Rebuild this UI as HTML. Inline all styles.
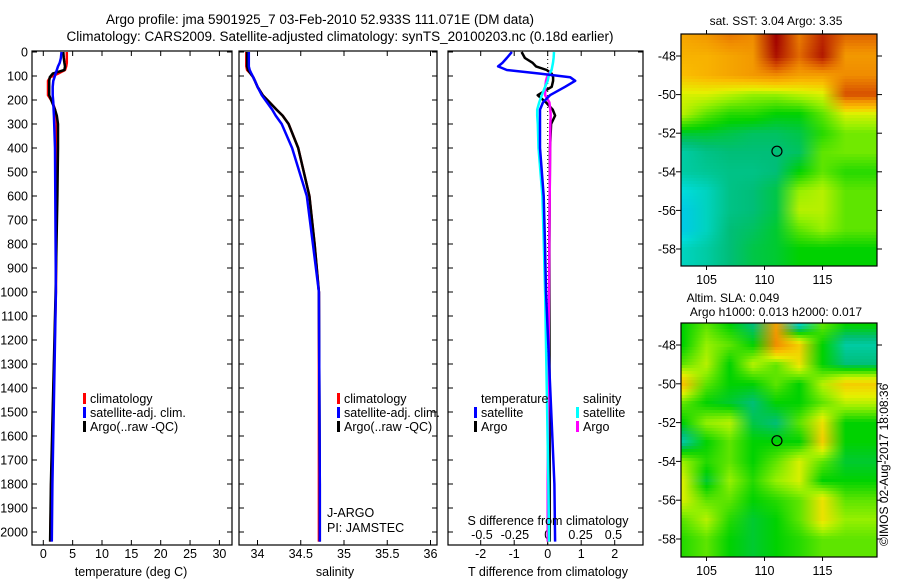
<!DOCTYPE html>
<html><head><meta charset="utf-8">
<style>
html,body{margin:0;padding:0;background:#fff;}
svg{display:block;font-family:"Liberation Sans",sans-serif;}
text{font-size:12.5px;fill:#000;}
</style></head>
<body>
<svg id="fig" width="900" height="580" viewBox="0 0 900 580" xmlns="http://www.w3.org/2000/svg">
<defs id="defs">
<clipPath id="clipMap1"><rect x="681" y="34" width="196" height="232"/></clipPath>
<clipPath id="clipMap2"><rect x="681" y="323" width="196" height="234"/></clipPath>
</defs>
<text x="320" y="24" text-anchor="middle" style="font-size:13.5px">Argo profile: jma 5901925_7 03-Feb-2010 52.933S 111.071E (DM data)</text>
<text x="340" y="41" text-anchor="middle" style="font-size:13.5px">Climatology: CARS2009. Satellite-adjusted climatology: synTS_20100203.nc (0.18d earlier)</text>
<g id="g1"></g>
<g id="g2"></g>
<g id="g3"></g>
<g id="m1"></g>
<g id="m2"></g>
<text x="776" y="25" text-anchor="middle" style="font-size:12px">sat. SST: 3.04 Argo: 3.35</text>
<text x="733" y="302" text-anchor="middle" style="font-size:12px">Altim. SLA: 0.049</text>
<text x="776" y="316" text-anchor="middle" style="font-size:12px">Argo h1000: 0.013 h2000: 0.017</text>
<text transform="translate(888,546) rotate(-90)" style="font-size:12px">©IMOS 02-Aug-2017 18:08:36</text>
</svg>
<script>
// ---------- data ----------
const depths = [0,25,45,60,75,90,105,120,145,180,210,240,265,300,400,600,800,1000,1800,2040];
const tempClim = [4.0,4.0,4.0,3.9,3.7,2.5,1.2,0.8,0.8,0.8,1.6,2.0,2.2,2.3,2.3,2.25,2.2,2.15,1.35,1.2];
const tempSat  = [3.1,3.0,2.8,2.5,2.3,2.1,1.9,1.7,1.6,1.6,1.7,1.75,1.8,1.85,2.0,2.05,2.1,2.15,1.55,1.45];
const tempArgo = [3.4,3.5,3.6,3.7,3.6,1.6,1.1,1.0,1.0,1.0,1.5,2.0,2.3,2.5,2.5,2.4,2.25,2.1,1.3,1.15];
const salClim = [33.87,33.87,33.87,33.87,33.88,33.92,33.95,33.97,34.0,34.06,34.14,34.22,34.29,34.36,34.47,34.6,34.66,34.71,34.71,34.71];
const salSat  = [33.9,33.9,33.9,33.9,33.91,33.93,33.95,33.97,34.0,34.05,34.11,34.17,34.21,34.28,34.4,34.57,34.64,34.71,34.72,34.72];
const salArgo = [33.88,33.88,33.88,33.88,33.89,33.92,33.95,33.97,34.0,34.06,34.14,34.22,34.29,34.36,34.47,34.6,34.66,34.71,34.72,34.72];
const dTsat  = [-1.07,-1.22,-1.35,-1.48,-1.22,-0.23,0.67,0.82,0.52,0.07,-0.14,-0.23,-0.23,-0.23,-0.23,-0.12,-0.08,-0.05,0.2,0.22];
const dTargo = [-0.78,-0.68,-0.45,-0.35,-0.03,0.12,0.16,0.16,0.12,-0.3,-0.05,0.15,0.22,0.1,0.07,0.06,0.05,0.05,0.06,0.06];
const dSsat  = [0.048,0.045,0.04,0.035,0.03,0.015,0.005,0.0,-0.02,-0.045,-0.065,-0.08,-0.08,-0.075,-0.07,-0.04,-0.03,-0.02,0.005,0.01];
const dSargo = [null,null,null,null,0.03,0.01,-0.005,-0.013,-0.018,-0.02,0.013,0.02,0.023,0.02,0.018,0.015,0.012,0.01,0.0,0.0];
const depthTicks = [0,100,200,300,400,500,600,700,800,900,1000,1100,1200,1300,1400,1500,1600,1700,1800,1900,2000];
const tempTicks = [0,5,10,15,20,25,30];
const salTicks = [34,34.5,35,35.5,36];
const salTickLabels = ["34","34.5","35","35.5","36"];
const dTTicks = [-2,-1,0,1,2];
const dSTicks = [-0.5,-0.25,0,0.25,0.5];
const dSTickLabels = ["-0.5","-0.25","0","0.25","0.5"];
const latTicks = [-48,-50,-52,-54,-56,-58];
const lonTicks = [105,110,115];
const sstGrid = [
[.74,.76,.80,.78,.95,.80,.90,.82],
[.72,.72,.74,.76,.93,.82,.92,.76],
[.70,.72,.74,.76,.78,.75,.75,.78],
[.62,.62,.60,.58,.58,.60,.62,.85],
[.60,.55,.52,.52,.50,.50,.55,.62],
[.48,.48,.47,.46,.46,.47,.52,.56],
[.42,.44,.45,.45,.45,.46,.55,.56],
[.42,.43,.44,.44,.45,.50,.55,.52],
[.38,.40,.44,.45,.47,.58,.60,.55],
[.36,.40,.44,.45,.47,.60,.60,.55],
[.36,.40,.45,.46,.48,.55,.58,.55],
[.40,.42,.45,.47,.48,.50,.50,.50]];
const slaGrid = [
[.50,.55,.50,.45,.75,.40,.55,.50],
[.50,.58,.55,.50,.78,.68,.50,.42],
[.55,.60,.50,.60,.55,.65,.50,.45],
[.70,.55,.50,.50,.55,.50,.60,.68],
[.55,.50,.48,.45,.50,.50,.55,.60],
[.50,.58,.60,.47,.45,.55,.65,.50],
[.42,.50,.55,.50,.50,.50,.68,.50],
[.58,.52,.55,.50,.55,.62,.55,.48],
[.62,.48,.58,.52,.58,.62,.50,.50],
[.62,.55,.55,.50,.52,.55,.65,.55],
[.55,.60,.52,.48,.50,.55,.65,.58],
[.52,.55,.50,.48,.50,.52,.55,.55]];
const argoLon = 111.071, argoLat = -52.933;

// ---------- helpers ----------
const NS="http://www.w3.org/2000/svg";
function mk(parent,tag,attrs){const e=document.createElementNS(NS,tag);for(const k in attrs)e.setAttribute(k,attrs[k]);parent.appendChild(e);return e;}
const yD = d => 52 + d*0.24;
const plotTop=51, plotBot=545;
const xT = t => 43.3 + t*5.87;
const xS = s => 257.5 + (s-34)*86.5;
const xDT = t => 547.7 + t*33.5;
const xDS = s => 547.7 + s*131.5;

function panelFrame(g,x0,x1,leftLabels){
  const r=mk(g,'rect',{x:x0,y:plotTop,width:x1-x0,height:plotBot-plotTop,fill:'none',stroke:'#000','stroke-width':1.2});
  
  
  depthTicks.forEach(d=>{
    const y=yD(d);
    const t1=mk(g,'line',{x1:x0,x2:x0+5,y1:y,y2:y,stroke:'#000'});
    
    
    const t2=mk(g,'line',{x1:x1-5,x2:x1,y1:y,y2:y,stroke:'#000'});
    
    
    if(leftLabels){
      const tx=mk(g,'text',{x:x0-4,y:y+4.5,'text-anchor':'end'});
      tx.textContent=d;
      
      
    }
  });
}
function xTicks(g,vals,labels,fx,yLab){
  vals.forEach((v,i)=>{
    const x=fx(v);
    const a=mk(g,'line',{x1:x,x2:x,y1:plotBot,y2:plotBot-5,stroke:'#000'});
    
    
    const b=mk(g,'line',{x1:x,x2:x,y1:plotTop,y2:plotTop+5,stroke:'#000'});
    
    
    const t=mk(g,'text',{x:x,y:yLab,'text-anchor':'middle'});
    t.textContent=labels[i];
    
    
  });
}
function profile(g,vals,fx,color,name,w){
  let pts=[];
  vals.forEach((v,i)=>{ if(v!==null) pts.push(fx(v).toFixed(1)+','+yD(depths[i]).toFixed(1)); });
  const p=mk(g,'polyline',{points:pts.join(' '),fill:'none',stroke:color,'stroke-width':w||2.5,'stroke-linejoin':'round'});
  
  
}
function legend(g,x,y,color,label,name){
  const r=mk(g,'rect',{x:x,y:y-10,width:3,height:11,fill:color});
  
  
  const t=mk(g,'text',{x:x+7,y:y});
  t.textContent=label;
  
  
}
function label(g,x,y,txt,name,anchor){
  const t=mk(g,'text',{x:x,y:y,'text-anchor':anchor||'start'});
  t.textContent=txt;
  
  
  return t;
}

// ---------- panel 1 ----------
const g1=document.getElementById('g1');
panelFrame(g1,32,232,true);
xTicks(g1,tempTicks,tempTicks.map(String),xT,558);
profile(g1,tempClim,xT,'#ff0000','temp-climatology-line');
profile(g1,tempArgo,xT,'#000000','temp-argo-line');
profile(g1,tempSat,xT,'#0000ff','temp-satellite-line');
label(g1,131,576,'temperature (deg C)','x-axis-title','middle');
legend(g1,83,403,'#ff0000','climatology','legend-climatology');
legend(g1,83,417,'#0000ff','satellite-adj. clim.','legend-satellite');
legend(g1,83,431,'#000000','Argo(..raw -QC)','legend-argo');

// ---------- panel 2 ----------
const g2=document.getElementById('g2');
panelFrame(g2,239,437,false);
xTicks(g2,salTicks,salTickLabels,xS,558);
profile(g2,salClim,xS,'#ff0000','sal-climatology-line');
profile(g2,salArgo,xS,'#000000','sal-argo-line');
profile(g2,salSat,xS,'#0000ff','sal-satellite-line');
label(g2,335,576,'salinity','x-axis-title','middle');
legend(g2,337,403,'#ff0000','climatology','legend-climatology');
legend(g2,337,417,'#0000ff','satellite-adj. clim.','legend-satellite');
legend(g2,337,431,'#000000','Argo(..raw -QC)','legend-argo');
label(g2,327,517,'J-ARGO','program-label');
label(g2,327,532,'PI: JAMSTEC','pi-label');

// ---------- panel 3 ----------
const g3=document.getElementById('g3');
panelFrame(g3,448,643,false);
xTicks(g3,dTTicks,dTTicks.map(String),xDT,558);
dSTicks.forEach((v,i)=>{
  label(g3,xDS(v),539,dSTickLabels[i],'s-diff-tick-label','middle');
});
const zl=mk(g3,'line',{x1:xDT(0),x2:xDT(0),y1:plotTop,y2:plotBot,stroke:'#000','stroke-dasharray':'1,3'});


profile(g3,dTargo,xDT,'#000000','t-diff-argo-line');
profile(g3,dSargo,xDS,'#ff00ff','s-diff-argo-line');
profile(g3,dSsat,xDS,'#00ffff','s-diff-satellite-line');
profile(g3,dTsat,xDT,'#0000ff','t-diff-satellite-line');
label(g3,548,525,'S difference from climatology','s-diff-axis-title','middle');
label(g3,548,576,'T difference from climatology','t-diff-axis-title','middle');
label(g3,481,403,'temperature','legend-temperature-header');
label(g3,583,403,'salinity','legend-salinity-header');
legend(g3,474,417,'#0000ff','satellite','legend-t-satellite');
legend(g3,474,431,'#000000','Argo','legend-t-argo');
legend(g3,576,417,'#00ffff','satellite','legend-s-satellite');
legend(g3,576,431,'#ff00ff','Argo','legend-s-argo');

// ---------- maps ----------
function jet(v){
  const stops=[[0.30,[0,150,255]],[0.38,[0,220,220]],[0.45,[0,190,120]],[0.5,[0,210,0]],[0.58,[150,240,0]],[0.63,[230,240,0]],[0.70,[250,190,0]],[0.78,[240,140,0]],[0.86,[210,70,0]],[0.95,[160,0,0]]];
  if(v<=stops[0][0])return 'rgb('+stops[0][1]+')';
  for(let i=1;i<stops.length;i++){ if(v<=stops[i][0]){const a=stops[i-1],b=stops[i];const f=(v-a[0])/(b[0]-a[0]);
    return 'rgb('+a[1].map((c,k)=>Math.round(c+(b[1][k]-c)*f)).join(',')+')';}}
  return 'rgb(160,0,0)';
}
const defs=document.getElementById('defs');
function drawMap(id,grid,y0,clip,lat48y,pxPerLat,bottomY){
  const g=document.getElementById(id);
  const xL = lon => 681 + (lon-102.8)*11.6;
  const yL = lat => lat48y + (-48-lat)*pxPerLat;
  const gc=mk(g,'g',{'clip-path':'url(#'+clip+')'});
  
  
  const nR=grid.length, nC=grid[0].length;
  for(let y=y0; y<bottomY; y+=3){
    const lat = -48 - (y+1.5-lat48y)/pxPerLat;
    let fr = -47 - lat; fr=Math.max(0,Math.min(nR-1,fr));
    const r0=Math.floor(fr), r1=Math.min(nR-1,r0+1), f=fr-r0;
    const gid=id+'row'+y;
    const lg=mk(defs,'linearGradient',{id:gid,gradientUnits:'userSpaceOnUse',x1:xL(103),x2:xL(103+2*(nC-1)),y1:0,y2:0});
    for(let c=0;c<nC;c++){
      const v=grid[r0][c]*(1-f)+grid[r1][c]*f;
      mk(lg,'stop',{offset:c/(nC-1),'stop-color':jet(v)});
    }
    const strip=mk(gc,'rect',{x:681,y:y,width:196,height:3.3,fill:'url(#'+gid+')'});
    
    
  }
  const frm=mk(g,'rect',{x:681,y:y0,width:196,height:bottomY-y0,fill:'none',stroke:'#000','stroke-width':1.2});
  
  
  latTicks.forEach(lat=>{
    const y=yL(lat);
    const a=mk(g,'line',{x1:676,x2:681,y1:y,y2:y,stroke:'#000'});
    
    
    const b=mk(g,'line',{x1:877,x2:882,y1:y,y2:y,stroke:'#000'});
    
    
    label(g,676,y+4.5,String(lat),'lat-tick-label','end');
  });
  lonTicks.forEach(lon=>{
    const x=xL(lon);
    const a=mk(g,'line',{x1:x,x2:x,y1:bottomY,y2:bottomY+4,stroke:'#000'});
    
    
    const b=mk(g,'line',{x1:x,x2:x,y1:y0-4,y2:y0,stroke:'#000'});
    
    
    label(g,x,bottomY+18,String(lon),'lon-tick-label','middle');
  });
  const c=mk(g,'ellipse',{cx:xL(argoLon),cy:yL(argoLat),rx:5,ry:5,fill:'none',stroke:'#000','stroke-width':1.2});
  
  
}
drawMap('m1',sstGrid,34,'clipMap1',56,19.3,266);
drawMap('m2',slaGrid,323,'clipMap2',345,19.4,557);
</script>
</body></html>
